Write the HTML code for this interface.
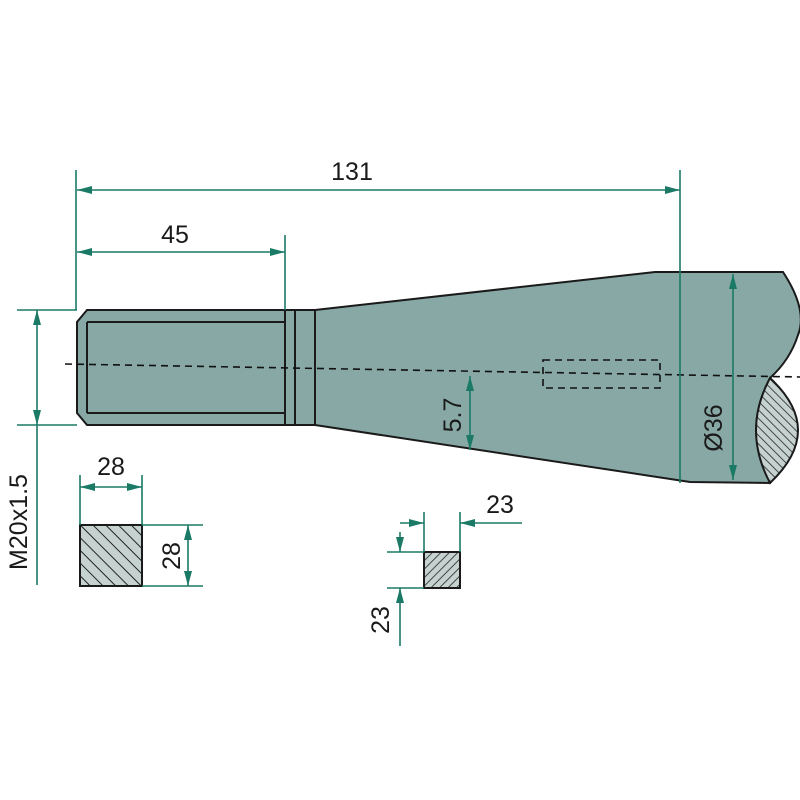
<!DOCTYPE html>
<html><head><meta charset="utf-8"><style>html,body{margin:0;padding:0;background:#fff}svg{display:block}</style></head>
<body>
<svg width="800" height="800" viewBox="0 0 800 800" xmlns="http://www.w3.org/2000/svg" font-family="Liberation Sans, sans-serif">
<defs>
<marker id="a" viewBox="0 0 10 10" refX="10" refY="5" markerWidth="15" markerHeight="8" markerUnits="userSpaceOnUse" orient="auto-start-reverse" preserveAspectRatio="none"><path d="M0,0L10,5L0,10z" fill="#1b7a66"/></marker>
<pattern id="h" patternUnits="userSpaceOnUse" width="9" height="9" patternTransform="rotate(-45)"><rect width="9" height="9" fill="#c5d2d0"/><line x1="0" y1="0" x2="0" y2="9" stroke="#222" stroke-width="2"/></pattern>
<pattern id="h3" patternUnits="userSpaceOnUse" width="6" height="6" patternTransform="rotate(-45)"><rect width="6" height="6" fill="#c5d2d0"/><line x1="0" y1="0" x2="0" y2="6" stroke="#222" stroke-width="1.6"/></pattern>
<pattern id="h2" patternUnits="userSpaceOnUse" width="6" height="6" patternTransform="rotate(45)"><rect width="6" height="6" fill="#c5d2d0"/><line x1="0" y1="0" x2="0" y2="6" stroke="#222" stroke-width="1.6"/></pattern>
</defs>
<g stroke="#1a1a1a" stroke-width="2" fill="#87a8a4">
<path d="M87,310 L315,310 L655,272 L783,272 Q808,310 798,335 Q790,360 770,378 L770,483 L690,482 L315,425 L87,425 L77,413 L77,322 Z"/>
<path d="M770,378 Q742,430 770,483 Q826,430 770,378 Z" fill="url(#h3)"/>
<path d="M87,322 H285 M87,413 H285 M87,322 V413 M285,310 V425 M295,310 V425 M315,310 V425" fill="none"/>
</g>
<g stroke="#111" stroke-width="1.6" stroke-dasharray="7,5" fill="none">
<line x1="65" y1="364" x2="800" y2="377"/>
<rect x="543" y="360" width="117" height="28"/>
</g>
<rect x="80" y="525" width="62" height="61" fill="url(#h)" stroke="#1a1a1a" stroke-width="2"/>
<rect x="424" y="552" width="36" height="36" fill="url(#h2)" stroke="#1a1a1a" stroke-width="2"/>
<g stroke="#1b7a66" stroke-width="1.6" fill="none">
<line x1="76" y1="170" x2="76" y2="310"/>
<line x1="680" y1="170" x2="680" y2="483"/>
<line x1="285" y1="235" x2="285" y2="310"/>
<line x1="77" y1="190" x2="680" y2="190" marker-start="url(#a)" marker-end="url(#a)"/>
<line x1="77" y1="252" x2="285" y2="252" marker-start="url(#a)" marker-end="url(#a)"/>
<line x1="17" y1="310" x2="77" y2="310"/>
<line x1="17" y1="425" x2="77" y2="425"/>
<line x1="37" y1="310" x2="37" y2="425" marker-start="url(#a)" marker-end="url(#a)"/>
<line x1="37" y1="425" x2="37" y2="585"/>
<line x1="470" y1="376" x2="470" y2="450" marker-start="url(#a)" marker-end="url(#a)"/>
<line x1="733" y1="274" x2="733" y2="480" marker-start="url(#a)" marker-end="url(#a)"/>
<line x1="80" y1="475" x2="80" y2="525"/>
<line x1="142" y1="475" x2="142" y2="525"/>
<line x1="80" y1="487" x2="142" y2="487" marker-start="url(#a)" marker-end="url(#a)"/>
<line x1="142" y1="525" x2="203" y2="525"/>
<line x1="142" y1="586" x2="203" y2="586"/>
<line x1="188" y1="525" x2="188" y2="586" marker-start="url(#a)" marker-end="url(#a)"/>
<line x1="424" y1="512" x2="424" y2="552"/>
<line x1="460" y1="512" x2="460" y2="552"/>
<line x1="400" y1="523" x2="424" y2="523" marker-end="url(#a)"/>
<line x1="522" y1="523" x2="460" y2="523" marker-end="url(#a)"/>
<line x1="387" y1="552" x2="424" y2="552"/>
<line x1="387" y1="588" x2="424" y2="588"/>
<line x1="400" y1="532" x2="400" y2="552" marker-end="url(#a)"/>
<line x1="400" y1="646" x2="400" y2="588" marker-end="url(#a)"/>
</g>
<g fill="#1a1a1a" font-size="25" text-anchor="middle">
<text x="352" y="180">131</text>
<text x="175" y="243">45</text>
<text x="111" y="475">28</text>
<text x="500" y="513">23</text>
<text transform="translate(27,522) rotate(-90)">M20x1.5</text>
<text transform="translate(180,556) rotate(-90)">28</text>
<text transform="translate(461,415) rotate(-90)">5.7</text>
<text transform="translate(722,428) rotate(-90)">Ø36</text>
<text transform="translate(389,620) rotate(-90)">23</text>
</g>
</svg>
</body></html>
